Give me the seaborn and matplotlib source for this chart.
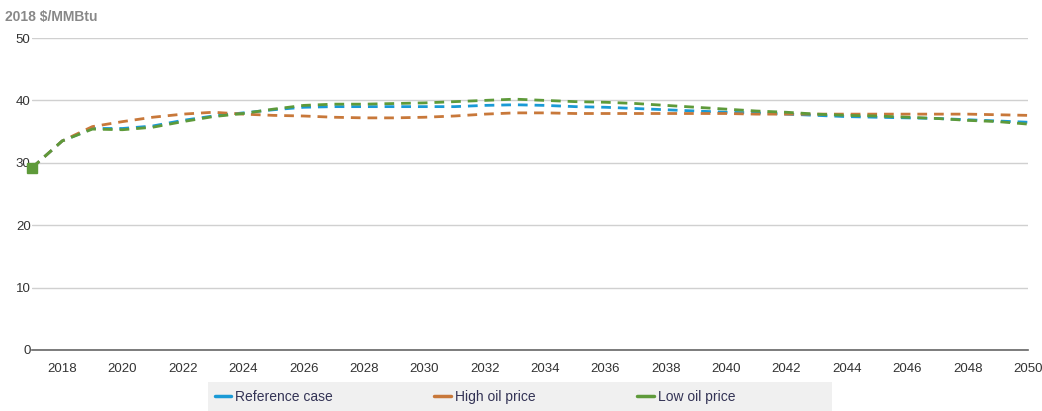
import numpy as np
import matplotlib
matplotlib.use("Agg")
import matplotlib.pyplot as plt
import seaborn as sns
import pandas as pd

years = list(range(2017, 2051))

reference = [29.2, 33.5, 35.5, 35.5, 35.9, 36.8, 37.5, 38.0, 38.5, 38.9,
             39.0, 39.0, 39.0, 39.0, 39.0, 39.2, 39.3, 39.2, 39.0, 38.9,
             38.7, 38.5, 38.3, 38.1, 38.0, 37.8, 37.6, 37.4, 37.3, 37.2,
             37.1, 36.9, 36.7, 36.5]
high_oil = [29.2, 33.5, 35.8, 36.6, 37.3, 37.8, 38.1, 37.8, 37.6, 37.5,
            37.3, 37.2, 37.2, 37.3, 37.5, 37.8, 38.0, 38.0, 37.9, 37.9,
            37.9, 37.9, 37.9, 37.9, 37.8, 37.8, 37.8, 37.8, 37.8, 37.8,
            37.8, 37.8, 37.7, 37.6]
low_oil = [29.2, 33.5, 35.4, 35.3, 35.7, 36.6, 37.4, 37.9, 38.6, 39.2,
           39.4, 39.4, 39.5, 39.6, 39.8, 40.0, 40.2, 40.0, 39.8, 39.7,
           39.5, 39.2, 38.9, 38.6, 38.3, 38.1, 37.8, 37.6, 37.5, 37.3,
           37.1, 36.8, 36.6, 36.2]

series = ["Reference case", "High oil price", "Low oil price"]
colors = ["#1a9ad6", "#c8783a", "#5e9a3a"]

df = pd.DataFrame({
    "year": years * 3,
    "value": reference + high_oil + low_oil,
    "case": [series[0]] * len(years) + [series[1]] * len(years) + [series[2]] * len(years),
})

sns.set_style("white")
plt.rcParams["font.family"] = ["Liberation Sans", "DejaVu Sans"]

fig = plt.figure(figsize=(10.42, 4.11), dpi=100)
ax = fig.add_axes([32 / 1042, 1 - 350 / 411, (1028 - 32) / 1042, (350 - 38) / 411])

sns.lineplot(data=df, x="year", y="value", hue="case", palette=colors,
             dashes=False, linewidth=2, ax=ax, legend=False)
for line in ax.lines:
    line.set_linestyle((0, (3.5, 2.5)))
ax.plot([years[0]], [low_oil[0]], marker="s", color=colors[2], markersize=6.5, clip_on=False)

ax.set_xlim(2017, 2050)
ax.set_ylim(0, 50)
ax.set_yticks([0, 10, 20, 30, 40, 50])
ax.set_xticks(list(range(2018, 2051, 2)))
ax.grid(axis="y", color="#d0d0d0", linewidth=1)
ax.grid(axis="x", visible=False)
for s in ["top", "right", "left"]:
    ax.spines[s].set_visible(False)
ax.spines["bottom"].set_color("#666666")
ax.spines["bottom"].set_linewidth(1.2)
ax.tick_params(axis="x", direction="out", length=5, color="#555555", width=1,
               labelsize=9.5, labelcolor="#333333", pad=4)
ax.tick_params(axis="y", length=0, labelsize=9.5, labelcolor="#333333", pad=1)
ax.set_xlabel("")
ax.set_ylabel("")

fig.text(5 / 1042, 1 - 17 / 411, "2018 $/MMBtu", fontsize=10, color="#888888",
         fontweight="bold", va="center", ha="left")

# legend bar
fig.patches.append(plt.Rectangle((208 / 1042, 0), (832 - 208) / 1042, 29 / 411,
                                 transform=fig.transFigure, facecolor="#f0f0f0",
                                 edgecolor="none", zorder=0))
handles = [plt.Line2D([0], [0], color=c, linewidth=2.5) for c in colors]
fig.legend(handles, series, loc="center left", bbox_to_anchor=(202 / 1042, 14 / 411),
           ncol=3, frameon=False, fontsize=10, handlelength=1.2, handletextpad=0.3,
           columnspacing=7.3, labelcolor="#333355")

fig.savefig("out.png", dpi=100)
